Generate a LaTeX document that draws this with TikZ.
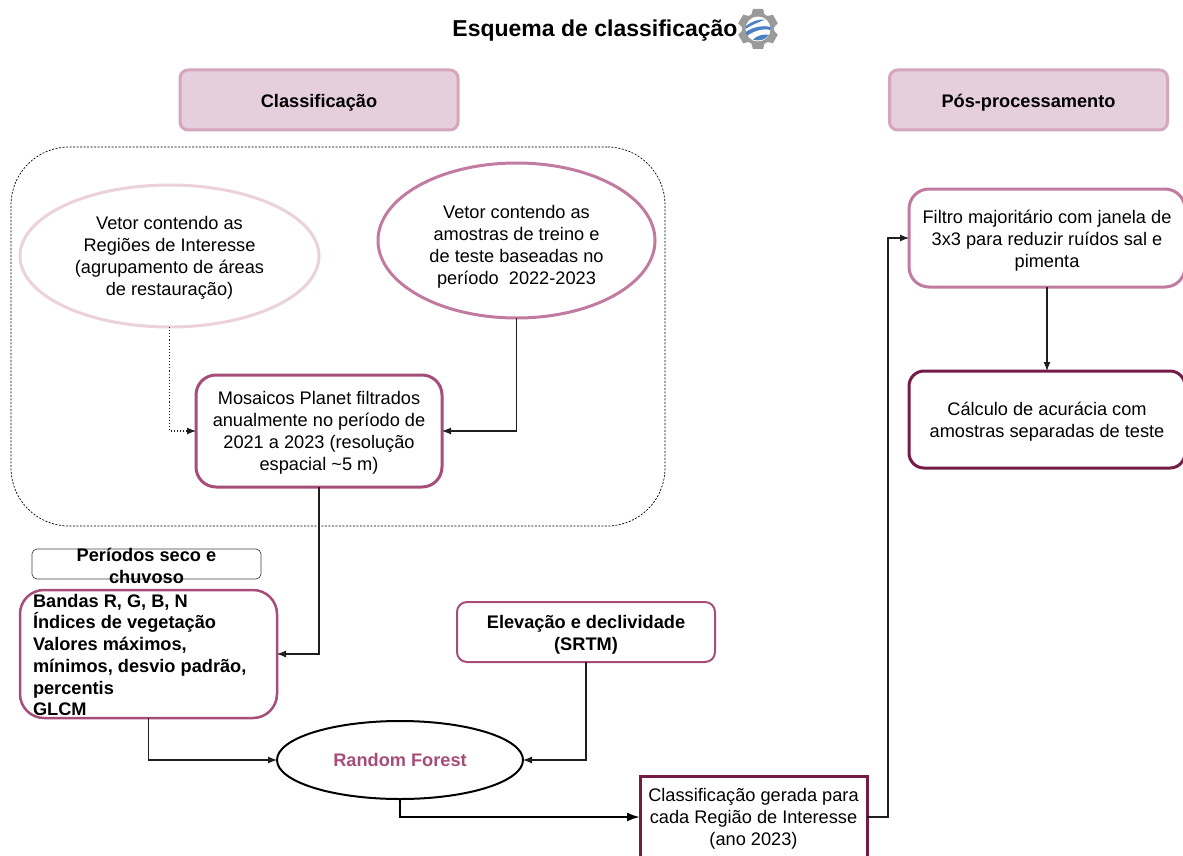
\documentclass[tikz,border=0pt]{standalone}
\usepackage{fontspec}
\setmainfont{Liberation Sans}
\usetikzlibrary{shapes.geometric,arrows.meta}
\definecolor{headfill}{HTML}{E6CFDD}
\definecolor{headline}{HTML}{D5A6BD}
\definecolor{paleline}{HTML}{EAD1DC}
\definecolor{midline}{HTML}{C27BA0}
\definecolor{plum}{HTML}{A64D79}
\definecolor{darkplum}{HTML}{741B47}
\definecolor{conn}{HTML}{1F1F1F}
\definecolor{geargray}{HTML}{9A9A9A}
\definecolor{globeblue}{HTML}{4A80C4}
\tikzset{
  every node/.style={outer sep=0pt,inner sep=0pt,align=center,text=black},
  every label/.style={outer sep=0pt,inner sep=0pt,align=center,text=black},
  txt/.style={font=\fontsize{18.2}{22}\selectfont},
  boldtxt/.style={font=\fontsize{18.2}{21.7}\selectfont\bfseries},
  headbox/.style={draw=headline,fill=headfill,line width=3pt,rounded corners=8pt,minimum width=278pt,minimum height=60pt},
  rbox/.style={draw=#1,line width=3pt,rounded corners=20pt},
  conn/.style={draw=conn,line width=1.1pt,-{Latex[length=9pt,width=7pt]}},
}
\begin{document}
\begin{tikzpicture}[x=1pt,y=-1pt]
\useasboundingbox (0,0) rectangle (1183,856);
\node[font=\fontsize{23}{26}\selectfont\bfseries] (title) at (595,31) {Esquema de classificação};
% Earth Engine gear icon
\begin{scope}[shift={(758,29)}]
  \foreach \a in {0,60,...,300}
    \fill[geargray,rotate=\a] (-5,-20) -- (5,-20) -- (7,-13) -- (-7,-13) -- cycle;
  \fill[geargray] (0,0) circle (16);
  \fill[white] (0,0) circle (12.5);
  \fill[globeblue] (-12,-3) .. controls (-6,-8) and (2,-10) .. (7,-9.5) .. controls (3,-7.5) and (-6,-4.5) .. (-12.5,0) -- cycle;
  \fill[globeblue] (-12.5,3) .. controls (-5,-2) and (5,-4) .. (12.5,-2) -- (12.5,1) .. controls (5,-1) and (-5,2) .. (-11,7) -- cycle;
  \fill[globeblue] (-5,10.5) .. controls (-1,6.5) and (6,4.5) .. (11,6) .. controls (8,10) and (2,13) .. (-5,10.5) -- cycle;
\end{scope}
\node[headbox,label={[boldtxt,yshift=-3pt]center:Classificação}] (classif) at (319,100) {};
\node[headbox,label={[boldtxt,yshift=-3pt]center:Pós-processamento}] (pos) at (1028.5,100) {};
\node[draw=black,line width=0.7pt,dash pattern=on 2pt off 1.5pt,rounded corners=58pt,minimum width=654pt,minimum height=379pt] (group) at (338,336.5) {};
\node[ellipse,draw=paleline,line width=3pt,minimum width=299pt,minimum height=142pt,label={[txt,yshift=-2pt]center:Vetor contendo as\\Regiões de Interesse\\(agrupamento de áreas\\de restauração)}] (roi) at (169.5,256) {};
\node[ellipse,draw=midline,line width=3pt,minimum width=277pt,minimum height=155pt,label={[txt,yshift=-6pt]center:Vetor contendo as\\amostras de treino e\\de teste baseadas no\\período\ \ 2022-2023}] (samples) at (516.5,240.5) {};
\node[rbox=plum,minimum width=246pt,minimum height=112pt,label={[txt,yshift=-2pt]center:Mosaicos Planet filtrados\\anualmente no período de\\2021 a 2023 (resolução\\espacial \textasciitilde5 m)}] (mosaic) at (319,431) {};
\node[draw=black!75,line width=0.7pt,rounded corners=5pt,minimum width=229pt,minimum height=30pt,label={[boldtxt,yshift=-2pt]center:Períodos seco e\\chuvoso}] (periods) at (146.5,564) {};
\node[rbox=plum,rounded corners=24pt,line width=2.5pt,minimum width=257pt,minimum height=128pt,label={[boldtxt,align=left,anchor=west,xshift=13pt,yshift=-1pt]west:Bandas R, G, B, N\\Índices de vegetação\\Valores máximos,\\mínimos, desvio padrão,\\percentis\\GLCM}] (bands) at (148.5,654) {};
\node[draw=plum,line width=2pt,rounded corners=10pt,minimum width=258pt,minimum height=60pt,label={[boldtxt,yshift=-3pt]center:Elevação e declividade\\(SRTM)}] (elev) at (586,632) {};
\node[ellipse,draw=black,line width=2pt,minimum width=246pt,minimum height=78pt,font=\fontsize{18.2}{20}\selectfont\bfseries,text=plum] (rf) at (400,760) {Random Forest};
\node[draw=darkplum,line width=3pt,minimum width=227pt,minimum height=82pt,label={[txt,yshift=-2pt]center:Classificação gerada para\\cada Região de Interesse\\(ano 2023)}] (result) at (753.5,817) {};
\node[rbox=midline,minimum width=276pt,minimum height=98pt,label={[txt,yshift=-3pt]center:Filtro majoritário com janela de\\3x3 para reduzir ruídos sal e\\pimenta}] (filter) at (1047,238) {};
\node[rbox=darkplum,rounded corners=15pt,minimum width=276pt,minimum height=97pt,label={[txt,yshift=-2pt]center:Cálculo de acurácia com\\amostras separadas de teste}] (acc) at (1047,419.5) {};
\draw[conn,dotted,-{Latex[length=9pt,width=7pt]}] (roi.south) |- (mosaic.west);
\draw[conn] (samples.south) |- (mosaic.east);
\draw[conn] (mosaic.south) |- (bands.east);
\draw[conn] (bands.south) |- (rf.west);
\draw[conn] (elev.south) |- (rf.east);
\draw[conn,draw=black,line width=2.2pt,-{Latex[length=13pt,width=9pt]}] (rf.south) |- (result.west);
\draw[conn] (result.east) -- ++(21,0) |- (filter.west);
\draw[conn] (filter.south) -- (acc.north);
\end{tikzpicture}
\end{document}
